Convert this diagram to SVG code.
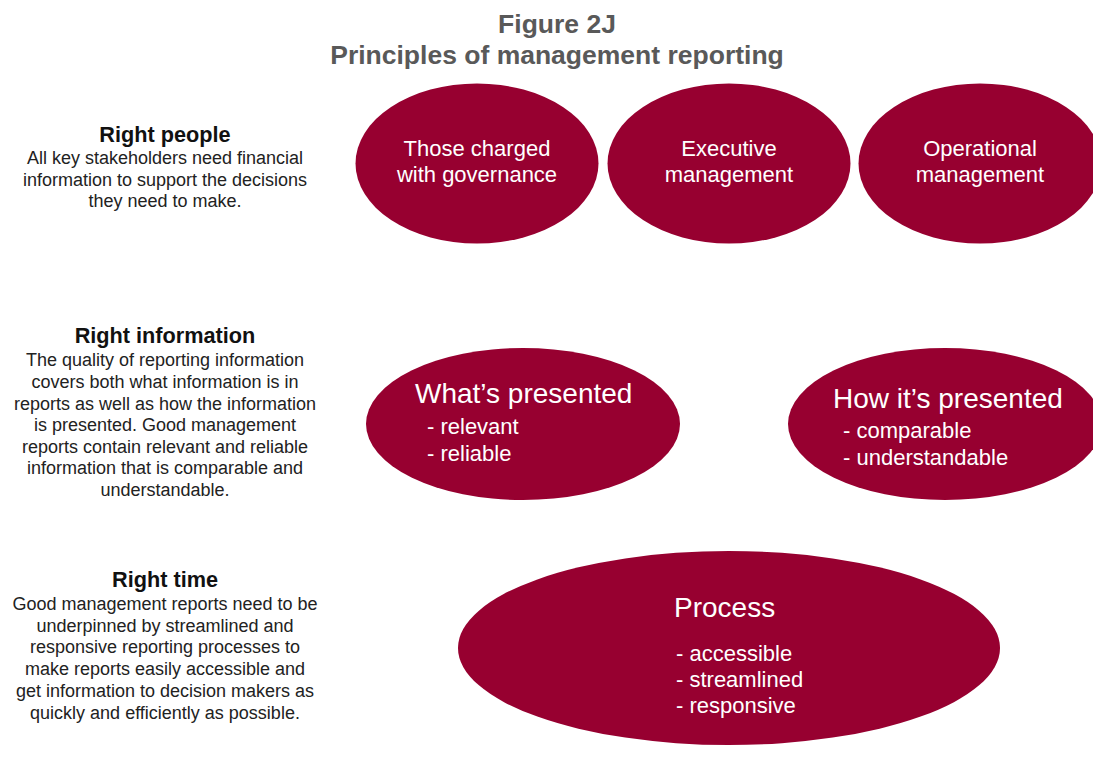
<svg xmlns="http://www.w3.org/2000/svg" width="1093" height="760" viewBox="0 0 1093 760">
  <style>
    .bg { fill: #ffffff; }
    .title { font-family: "Liberation Sans", Arial, sans-serif; font-weight: bold; font-size: 26.5px; fill: #595959; text-anchor: middle; }
    .head { font-family: "Liberation Sans", Arial, sans-serif; font-weight: bold; font-size: 21.7px; fill: #111111; text-anchor: middle; }
    .body { font-family: "Liberation Sans", Arial, sans-serif; font-size: 18px; fill: #222222; text-anchor: middle; }
    .oval { fill: #970030; }
    .lbl { font-family: "Liberation Sans", Arial, sans-serif; font-size: 22px; fill: #ffffff; text-anchor: middle; }
    .big { font-family: "Liberation Sans", Arial, sans-serif; font-size: 28px; fill: #ffffff; }
    .item { font-family: "Liberation Sans", Arial, sans-serif; font-size: 22px; fill: #ffffff; }
  </style>
  <rect class="bg" x="0" y="0" width="1093" height="760"/>

  <g id="title">
    <text class="title" x="557" y="33">Figure 2J</text>
    <text class="title" x="557" y="64">Principles of management reporting</text>
  </g>

  <!-- left-hand descriptions -->
  <g id="right-people">
    <text class="head" x="165" y="142">Right people</text>
    <text class="body" x="165" y="164">All key stakeholders need financial</text>
    <text class="body" x="165" y="186">information to support the decisions</text>
    <text class="body" x="165" y="207">they need to make.</text>
  </g>
  <g id="right-information">
    <text class="head" x="165" y="343">Right information</text>
    <text class="body" x="165" y="366">The quality of reporting information</text>
    <text class="body" x="165" y="388">covers both what information is in</text>
    <text class="body" x="165" y="410">reports as well as how the information</text>
    <text class="body" x="165" y="431">is presented. Good management</text>
    <text class="body" x="165" y="453">reports contain relevant and reliable</text>
    <text class="body" x="165" y="474">information that is comparable and</text>
    <text class="body" x="165" y="496">understandable.</text>
  </g>
  <g id="right-time">
    <text class="head" x="165" y="587">Right time</text>
    <text class="body" x="165" y="610">Good management reports need to be</text>
    <text class="body" x="165" y="632">underpinned by streamlined and</text>
    <text class="body" x="165" y="653">responsive reporting processes to</text>
    <text class="body" x="165" y="675">make reports easily accessible and</text>
    <text class="body" x="165" y="697">get information to decision makers as</text>
    <text class="body" x="165" y="719">quickly and efficiently as possible.</text>
  </g>

  <!-- people ovals -->
  <g id="governance">
    <ellipse class="oval" cx="477" cy="163.5" rx="121.5" ry="80"/>
    <text class="lbl" x="477" y="156">Those charged</text>
    <text class="lbl" x="477" y="182">with governance</text>
  </g>
  <g id="executive">
    <ellipse class="oval" cx="729" cy="163.5" rx="121.5" ry="80"/>
    <text class="lbl" x="729" y="156">Executive</text>
    <text class="lbl" x="729" y="182">management</text>
  </g>
  <g id="operational">
    <ellipse class="oval" cx="980" cy="163.5" rx="121.5" ry="80"/>
    <text class="lbl" x="980" y="156">Operational</text>
    <text class="lbl" x="980" y="182">management</text>
  </g>

  <!-- information ovals -->
  <g id="whats-presented">
    <ellipse class="oval" cx="523" cy="424" rx="157" ry="76"/>
    <text class="big" x="415" y="403">What’s presented</text>
    <text class="item" x="427" y="434">- relevant</text>
    <text class="item" x="427" y="461">- reliable</text>
  </g>
  <g id="how-presented">
    <ellipse class="oval" cx="945" cy="424" rx="157" ry="76"/>
    <text class="big" x="833" y="408">How it’s presented</text>
    <text class="item" x="843" y="438">- comparable</text>
    <text class="item" x="843" y="465">- understandable</text>
  </g>

  <!-- time oval -->
  <g id="process">
    <ellipse class="oval" cx="729" cy="648" rx="271" ry="97"/>
    <text class="big" x="674" y="617">Process</text>
    <text class="item" x="676" y="661">- accessible</text>
    <text class="item" x="676" y="687">- streamlined</text>
    <text class="item" x="676" y="713">- responsive</text>
  </g>
</svg>
